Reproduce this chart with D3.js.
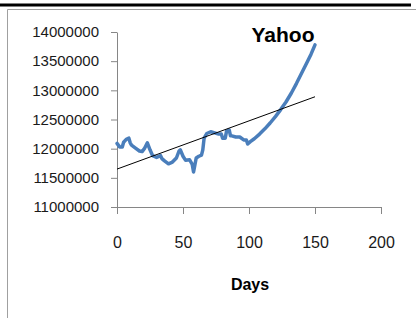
<!DOCTYPE html>
<html>
<head>
<meta charset="utf-8">
<script src="https://cdn.jsdelivr.net/npm/d3@7"></script>
<style>
  body { margin: 0; background: #fff; }
  svg { display: block; }
</style>
</head>
<body>
<div id="chart"></div>
<script>
// yahoo values
const days = [0, 2, 4, 5, 7, 9, 10, 11, 14, 17, 19, 21, 23, 24, 25, 27, 30, 33, 34, 36, 39, 42, 45, 47, 48, 50,
    52, 55, 57, 58, 59, 60, 62, 64, 65, 66, 68, 71, 74, 77, 79, 80, 82, 83, 85, 86, 87, 90, 93, 96, 98, 99,
    101, 104, 108, 112, 116, 120, 124, 128, 132, 136, 140, 144, 147, 150];
const values = [12090000, 12030000, 12030000, 12110000, 12160000, 12180000, 12100000, 12060000, 12010000, 11960000, 11950000, 12010000, 12100000, 12040000, 11980000, 11880000, 11850000, 11880000, 11830000, 11790000, 11740000, 11770000, 11840000, 11960000, 11980000, 11870000,
    11800000, 11810000, 11730000, 11600000, 11720000, 11840000, 11870000, 11890000, 11980000, 12180000, 12260000, 12290000,
    12270000, 12250000, 12250000, 12180000, 12180000, 12300000, 12320000, 12220000, 12220000, 12200000, 12200000, 12150000, 12150000, 12080000,
    12120000, 12170000, 12250000, 12340000, 12440000, 12550000, 12670000, 12800000, 12950000, 13120000,
    13300000, 13480000, 13620000, 13780000];
const trendDays = [0, 150];
const trendValues = [11650000, 12890000];
const xTicks = [0, 50, 100, 150, 200];
const yTicks = [11000000, 11500000, 12000000, 12500000, 13000000, 13500000, 14000000];

const width = 416, height = 318;

let svg = d3.select("#chart")
    .append("svg")
    .attr("width", width)
    .attr("height", height);

// page frame
svg.append("line")
    .attr("x1", 0).attr("x2", 411).attr("y1", 5).attr("y2", 5)
    .attr("stroke", "#000").attr("stroke-width", 3);
svg.append("path")
    .attr("d", "M7.5,318 V9.5 H416")
    .attr("fill", "none")
    .attr("stroke", "#a0a0a0")
    .attr("stroke-width", 1);

let x = d3.scaleLinear().domain([0, 200]).range([117, 381]);
let y = d3.scaleLinear().domain([11000000, 14000000]).range([207, 32]);

let xAxis = svg.append("g")
    .attr("transform", "translate(0, 207)")
    .call(d3.axisBottom(x).tickValues(xTicks).tickSize(7).tickPadding(23).tickSizeOuter(0));

let yAxis = svg.append("g")
    .attr("transform", "translate(117, 0)")
    .call(d3.axisLeft(y).tickValues(yTicks).tickSize(6).tickPadding(12).tickSizeOuter(0)
        .tickFormat(d3.format("d")));

[xAxis, yAxis].forEach(function(g) {
    g.select(".domain").attr("stroke", "#868686");
    g.selectAll(".tick line").attr("stroke", "#868686");
    g.selectAll("text").attr("fill", "#1a1a1a").style("font-family", "'Liberation Sans', Arial, sans-serif");
});
xAxis.selectAll("text").style("font-size", "16px");
yAxis.selectAll("text").style("font-size", "15px");

// data line
let line = d3.line()
    .x(function(d, i) { return x(days[i]) })
    .y(function(d) { return y(d) });

svg.append("path")
    .datum(values)
    .attr("d", line)
    .attr("fill", "none")
    .attr("stroke", "#4a7ebb")
    .attr("stroke-width", 3.5)
    .attr("stroke-linejoin", "round")
    .attr("stroke-linecap", "round");

// linear trend
svg.append("path")
    .datum(trendValues)
    .attr("d", d3.line().x(function(d, i) { return x(trendDays[i]) }).y(function(d) { return y(d) }))
    .attr("fill", "none")
    .attr("stroke", "#000")
    .attr("stroke-width", 1);

svg.append("text")
    .attr("x", 283).attr("y", 42)
    .style("text-anchor", "middle")
    .style("font-family", "'Liberation Sans', Arial, sans-serif")
    .style("font-weight", "bold")
    .style("font-size", "21px")
    .text("Yahoo");

svg.append("text")
    .attr("x", 250).attr("y", 290)
    .style("text-anchor", "middle")
    .style("font-family", "'Liberation Sans', Arial, sans-serif")
    .style("font-weight", "bold")
    .style("font-size", "16px")
    .text("Days");
</script>
</body>
</html>
